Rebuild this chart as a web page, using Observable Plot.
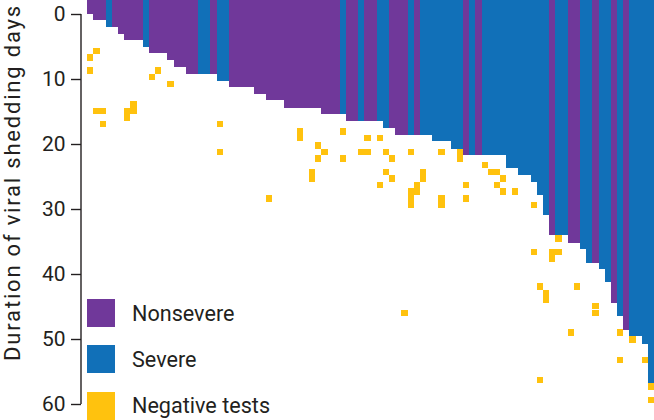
<!DOCTYPE html>
<html>
<head>
<meta charset="utf-8">
<script src="https://cdn.jsdelivr.net/npm/d3@7"></script>
<script src="https://cdn.jsdelivr.net/npm/@observablehq/plot@0.6"></script>
<style>
  body { margin: 0; background: #fff; overflow: hidden; }
  #wrap { position: relative; width: 654px; height: 420px; font-family: Roboto, sans-serif; }
  #wrap svg { position: absolute; left: 0; top: 0; overflow: visible; }
  #legend { position: absolute; left: 87px; top: 299px; }
  .item { display: flex; align-items: center; height: 28px; margin-bottom: 18.3px; font-size: 21.6px; color: #231f20; white-space: nowrap; }
  .sw { width: 28px; height: 28px; margin-right: 17px; flex: none; }
</style>
</head>
<body>
<div id="wrap"></div>
<script>
// ---- data ----
const groups = ["Nonsevere", "Severe"];
const groupColors = ["#70389a", "#1170b8"];
const negativeColor = "#ffc20e";
const legendLabels = ["Nonsevere", "Severe", "Negative tests"];
const yTicks = [0, 10, 20, 30, 40, 50, 60];
const yTitle = "Duration of viral shedding days";

// one letter per patient column, left to right: N = nonsevere, S = severe
const patientSeverity = (
  "NNNSNNNNNS" + "NNNNNNNNSS" + "NSSNNNNNNN" + "NNNNNNNNNN" + "NSNNSNNSSN" +
  "NNSNSSSSSS" + "SNSNSSSSSS" + "SSSSSNSSNN" + "SSNSSNSNSS" + "SS"
).split("");

// duration of viral shedding (days), per patient column
const sheddingDays = [
  0, 0.9, 0.9, 2.0, 2.0, 3.0, 4.0, 4.0, 4.0, 5.0,
  6.0, 6.0, 6.0, 7.1, 8.1, 8.1, 9.2, 9.2, 9.2, 9.2,
  9.2, 10.3, 10.3, 11.3, 11.3, 11.3, 11.3, 12.3, 12.3, 13.3,
  13.3, 13.3, 14.4, 14.4, 14.4, 14.4, 14.4, 14.4, 15.4, 15.4,
  15.4, 15.4, 16.5, 16.5, 16.5, 16.5, 16.5, 16.5, 17.5, 17.5,
  18.6, 18.6, 18.6, 18.6, 18.6, 18.6, 19.6, 19.6, 19.6, 20.7,
  20.7, 21.7, 21.7, 21.7, 21.7, 21.7, 21.7, 21.7, 23.7, 23.7,
  24.8, 24.8, 25.8, 27.8, 30.9, 34.0, 34.0, 34.0, 35.2, 35.2,
  36.2, 38.3, 38.3, 39.3, 41.3, 44.4, 46.5, 48.6, 49.6, 49.6,
  50.7, 56.8
];

// negative tests: patient column and day
const negativePatient = [
  0, 0, 1, 1, 2, 2, 6, 6, 7, 7,
  10, 11, 13, 21, 21, 29, 34, 34, 36, 36,
  37, 37, 38, 41, 41, 44, 45, 45, 47, 47,
  48, 48, 49, 49, 51, 52, 52, 52, 52, 53,
  53, 54, 54, 57, 57, 57, 60, 60, 61, 61,
  64, 65, 66, 66, 67, 67, 69, 72, 72, 73,
  73, 74, 74, 75, 75, 76, 76, 78, 79, 82,
  82, 86, 86, 88, 90, 91, 91
];
const negativeDay = [
  6.7, 8.7, 5.7, 14.9, 14.9, 16.9, 14.9, 15.9, 13.9, 14.9,
  9.7, 8.7, 10.8, 16.9, 21.2, 28.4, 18.1, 19.1, 24.3, 25.3,
  20.2, 22.2, 21.2, 18.1, 22.2, 21.2, 19.1, 21.2, 19.1, 26.3,
  21.2, 24.3, 22.2, 25.3, 46.0, 21.2, 27.3, 28.4, 29.4, 26.3,
  27.3, 24.3, 25.3, 21.2, 28.4, 29.4, 21.2, 22.2, 26.3, 28.4,
  23.2, 24.3, 24.3, 26.3, 25.3, 27.3, 27.3, 29.4, 36.6, 41.9,
  56.3, 42.9, 43.9, 36.6, 37.6, 34.5, 36.6, 49.0, 41.9, 44.9,
  46.0, 49.0, 53.2, 50.1, 53.2, 57.3, 59.4
];

// bars begin above day 0 (the reference is cropped at the top)
const barStart = -2.2;

// ---- build ----
const patients = d3.range(sheddingDays.length);
const bars = patients.map(i => ({
  patient: i,
  days: sheddingDays[i],
  group: patientSeverity[i] === "N" ? groups[0] : groups[1]
}));
const negatives = negativePatient.map((p, i) => ({patient: p, day: negativeDay[i]}));

const ink = "#231f20";
const SVGNS = "http://www.w3.org/2000/svg";

// custom mark: the y axis line from the first to the last tick
function yAxisLine(index, scales, values, dimensions) {
  const line = document.createElementNS(SVGNS, "line");
  const x = dimensions.marginLeft;
  line.setAttribute("x1", x);
  line.setAttribute("x2", x);
  line.setAttribute("y1", scales.y(yTicks[0]));
  line.setAttribute("y2", scales.y(yTicks[yTicks.length - 1]));
  line.setAttribute("stroke", ink);
  line.setAttribute("stroke-width", 1.4);
  return line;
}

const chart = Plot.plot({
  width: 654,
  height: 420,
  marginLeft: 81,
  marginRight: 0,
  marginTop: 14,
  marginBottom: 16,
  style: {fontFamily: "Roboto, sans-serif", color: ink, background: "#fff", overflow: "visible"},
  x: {type: "band", domain: patients, range: [87.3, 654], padding: 0, round: false, axis: null},
  y: {domain: [0, 60], reverse: true, axis: null},
  color: {domain: groups, range: groupColors},
  marks: [
    Plot.barY(bars, {x: "patient", y1: barStart, y2: "days", fill: "group", inset: 0, shapeRendering: "crispEdges"}),
    Plot.barY(negatives, {x: "patient", y1: d => d.day - 0.5, y2: d => d.day + 0.5, fill: negativeColor, inset: 0, shapeRendering: "crispEdges"}),
    Plot.axisY(yTicks, {tickSize: 10, tickPadding: 6, fontSize: 21, strokeWidth: 1.4, label: null}),
    yAxisLine,
    Plot.text([yTitle], {frameAnchor: "left", textAnchor: "middle", rotate: -90, dx: -69, dy: -27, fontSize: 22, fill: ink})
  ]
});

const svgEl = chart.tagName.toLowerCase() === "svg" ? chart : chart.querySelector("svg");
// the reference's title font is wider: open up the letters
d3.select(svgEl).selectAll("text")
  .filter(function () { return this.textContent === yTitle; })
  .style("letter-spacing", "1.8px");

const wrap = document.getElementById("wrap");
wrap.appendChild(chart);

const legend = document.createElement("div");
legend.id = "legend";
const legendColors = [...groupColors, negativeColor];
legendLabels.forEach((label, i) => {
  const item = document.createElement("div");
  item.className = "item";
  const sw = document.createElement("span");
  sw.className = "sw";
  sw.style.background = legendColors[i];
  const tx = document.createElement("span");
  tx.textContent = label;
  item.appendChild(sw);
  item.appendChild(tx);
  legend.appendChild(item);
});
wrap.appendChild(legend);
</script>
</body>
</html>
